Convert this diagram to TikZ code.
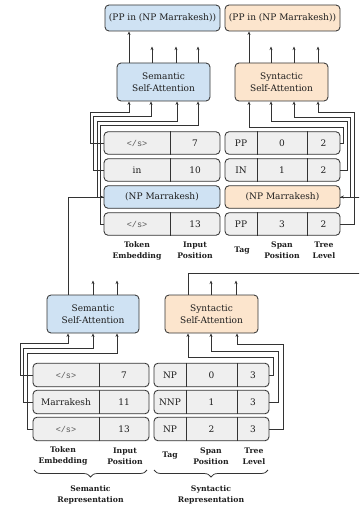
\documentclass[tikz,border=0pt]{standalone}
\usepackage{fontspec}
\setmainfont{DejaVu Serif}
\newfontfamily\monof{Liberation Mono}
\usetikzlibrary{arrows.meta,decorations.pathreplacing}
\definecolor{semblue}{HTML}{CFE2F3}
\definecolor{synor}{HTML}{FCE5CD}
\definecolor{rowgray}{HTML}{EFEFEF}
\definecolor{linec}{HTML}{333333}
\definecolor{txt}{HTML}{1E1E1E}
\definecolor{monoc}{HTML}{555555}
\tikzset{
  box/.style={draw=linec, line width=0.85pt, rounded corners=4pt, inner sep=0pt, text=txt, font=\fontsize{9}{12}\selectfont, align=center},
  rowbox/.style={box, fill=rowgray, minimum height=22.5pt},
  cell/.style={inner sep=0pt, text=txt, font=\fontsize{9}{11}\selectfont},
  tok/.style={inner sep=0pt, text=monoc, font=\monof\fontsize{8.5}{10}\selectfont},
  lab/.style={inner sep=0pt, text=txt, font=\bfseries\fontsize{7.7}{11}\selectfont, align=center},
  divl/.style={draw=linec, line width=0.85pt},
  conn/.style={draw=linec, line width=0.75pt, -{Stealth[length=3.5pt,width=3pt]}},
  brc/.style={draw=linec, line width=0.75pt, decorate, decoration={brace, mirror, amplitude=7pt}}
}
\begin{document}
\begin{tikzpicture}[x=1pt,y=-1pt]
\useasboundingbox (0,0) rectangle (359,508);
\clip (0,0) rectangle (359,508);

% ---------- top outputs ----------
\node[box, fill=semblue, minimum width=115pt, minimum height=26pt] (so) at (162.5,18) {(PP in (NP Marrakesh))};
\node[box, fill=synor, minimum width=115pt, minimum height=26pt] (yo) at (282.5,18) {(PP in (NP Marrakesh))};

% ---------- top attention ----------
\node[box, fill=semblue, minimum width=93pt, minimum height=38pt] (sa) at (163.5,82) {Semantic\\Self-Attention};
\node[box, fill=synor, minimum width=93pt, minimum height=38pt] (ya) at (281.5,82) {Syntactic\\Self-Attention};

% ---------- top semantic rows ----------
\node[rowbox, minimum width=116pt] (L1) at (162,143) {};
\node[rowbox, minimum width=116pt] (L2) at (162,170) {};
\node[box, fill=semblue, minimum width=116pt, minimum height=22.5pt] (L3) at (162,197) {(NP Marrakesh)};
\node[rowbox, minimum width=116pt] (L4) at (162,224) {};
\foreach \r in {L1,L2,L4} {\draw[divl] (\r.north -| 170,0) -- (\r.south -| 170,0);}
\node[tok] (L1a) at (137,143) {</s>};
\node[cell] (L1b) at (195,143) {7};
\node[cell] (L2a) at (137,170) {in};
\node[cell] (L2b) at (195,170) {10};
\node[tok] (L4a) at (137,224) {</s>};
\node[cell] (L4b) at (195,224) {13};

% ---------- top syntactic rows ----------
\node[rowbox, minimum width=115pt] (R1) at (282.5,143) {};
\node[rowbox, minimum width=115pt] (R2) at (282.5,170) {};
\node[box, fill=synor, minimum width=115pt, minimum height=22.5pt] (R3) at (282.5,197) {(NP Marrakesh)};
\node[rowbox, minimum width=115pt] (R4) at (282.5,224) {};
\foreach \r in {R1,R2,R4} {
  \draw[divl] (\r.north -| 257,0) -- (\r.south -| 257,0);
  \draw[divl] (\r.north -| 307,0) -- (\r.south -| 307,0);}
\node[cell] (R1a) at (241,143) {PP};
\node[cell] (R1b) at (282,143) {0};
\node[cell] (R1c) at (323.5,143) {2};
\node[cell] (R2a) at (241,170) {IN};
\node[cell] (R2b) at (282,170) {1};
\node[cell] (R2c) at (323.5,170) {2};
\node[cell] (R4a) at (241,224) {PP};
\node[cell] (R4b) at (282,224) {3};
\node[cell] (R4c) at (323.5,224) {2};

% ---------- top labels ----------
\node[lab] (t1) at (137,250.5) {Token\\Embedding};
\node[lab] (t2) at (195,250.5) {Input\\Position};
\node[lab] (t3) at (242,250.5) {Tag};
\node[lab] (t4) at (282,250.5) {Span\\Position};
\node[lab] (t5) at (324,250.5) {Tree\\Level};

% ---------- lower attention ----------
\node[box, fill=semblue, minimum width=92pt, minimum height=38pt] (ba) at (93,314) {Semantic\\Self-Attention};
\node[box, fill=synor, minimum width=93pt, minimum height=38pt] (bs) at (211.5,314) {Syntactic\\Self-Attention};

% ---------- lower semantic rows ----------
\node[rowbox, minimum width=116pt, minimum height=23.5pt] (BL1) at (91,375) {};
\node[rowbox, minimum width=116pt, minimum height=23.5pt] (BL2) at (91,402) {};
\node[rowbox, minimum width=116pt, minimum height=23.5pt] (BL3) at (91,429) {};
\foreach \r in {BL1,BL2,BL3} {\draw[divl] (\r.north -| 99,0) -- (\r.south -| 99,0);}
\node[tok] (BL1a) at (66,375) {</s>};
\node[cell] (BL1b) at (124,375) {7};
\node[cell] (BL2a) at (66,402) {Marrakesh};
\node[cell] (BL2b) at (124,402) {11};
\node[tok] (BL3a) at (66,429) {</s>};
\node[cell] (BL3b) at (124,429) {13};

% ---------- lower syntactic rows ----------
\node[rowbox, minimum width=115pt, minimum height=23.5pt] (BR1) at (211.5,375) {};
\node[rowbox, minimum width=115pt, minimum height=23.5pt] (BR2) at (211.5,402) {};
\node[rowbox, minimum width=115pt, minimum height=23.5pt] (BR3) at (211.5,429) {};
\foreach \r in {BR1,BR2,BR3} {
  \draw[divl] (\r.north -| 186,0) -- (\r.south -| 186,0);
  \draw[divl] (\r.north -| 237,0) -- (\r.south -| 237,0);}
\node[cell] (BR1a) at (170,375) {NP};
\node[cell] (BR1b) at (211.5,375) {0};
\node[cell] (BR1c) at (253,375) {3};
\node[cell] (BR2a) at (170,402) {NNP};
\node[cell] (BR2b) at (211.5,402) {1};
\node[cell] (BR2c) at (253,402) {3};
\node[cell] (BR3a) at (170,429) {NP};
\node[cell] (BR3b) at (211.5,429) {2};
\node[cell] (BR3c) at (253,429) {3};

% ---------- lower labels ----------
\node[lab] (b1) at (63,456) {Token\\Embedding};
\node[lab] (b2) at (125,456) {Input\\Position};
\node[lab] (b3) at (170,456) {Tag};
\node[lab] (b4) at (211,456) {Span\\Position};
\node[lab] (b5) at (254,456) {Tree\\Level};
\coordinate (bra) at (34,470);
\coordinate (brb) at (147,470);
\coordinate (brc) at (154,470);
\coordinate (brd) at (268,470);
\draw[brc] (bra) -- (brb);
\draw[brc] (brc) -- (brd);
\node[lab] (g1) at (90.5,494.5) {Semantic\\Representation};
\node[lab] (g2) at (211,494.5) {Syntactic\\Representation};

% ---------- top connectors: outputs ----------
\draw[conn] (sa.north -| 129,0) -- (so.south -| 129,0);
\foreach \x in {152,176,198} {\draw[conn] (sa.north -| \x,0) -- ++(0,-16);}
\draw[conn] (ya.north -| 249,0) -- (yo.south -| 249,0);
\foreach \x in {271,294,318} {\draw[conn] (ya.north -| \x,0) -- ++(0,-16);}

% ---------- top connectors: inputs ----------
\draw[conn] (L1.west) -| (90,112) -| (sa.south -| 129,0);
\draw[conn] (L2.west) -| (93.5,116.5) -| (sa.south -| 151,0);
\draw[conn] (L3.west) -| (97,121) -| (sa.south -| 177,0);
\draw[conn] (L4.west) -| (100.5,125.5) -| (sa.south -| 198,0);
\draw[conn] (R1.east) -| (343.5,127) -| (ya.south -| 249,0);
\draw[conn] (R2.east) -| (347,121.5) -| (ya.south -| 271,0);
\draw[conn] (R3.east) -| (350.5,117) -| (ya.south -| 294,0);
\draw[conn] (R4.east) -| (354,112) -| (ya.south -| 318,0);

% ---------- lower outputs ----------
\draw[conn] (ba.north -| 68,0) |- (L3.west);
\foreach \x in {93,117} {\draw[conn] (ba.north -| \x,0) -- ++(0,-14);}
\draw[conn] (bs.north -| 188,0) |- (364,273) |- (R3.east);
\foreach \x in {211,236} {\draw[conn] (bs.north -| \x,0) -- ++(0,-14);}

% ---------- lower inputs ----------
\draw[conn] (BL1.west) -| (20,343) -| (ba.south -| 68,0);
\draw[conn] (BL2.west) -| (23.5,348) -| (ba.south -| 93,0);
\draw[conn] (BL3.west) -| (27,353) -| (ba.south -| 117,0);
\draw[conn] (BR1.east) -| (273,357) -| (bs.south -| 188,0);
\draw[conn] (BR2.east) -| (278,351) -| (bs.south -| 211,0);
\draw[conn] (BR3.east) -| (283,344) -| (bs.south -| 237,0);
\end{tikzpicture}
\end{document}
